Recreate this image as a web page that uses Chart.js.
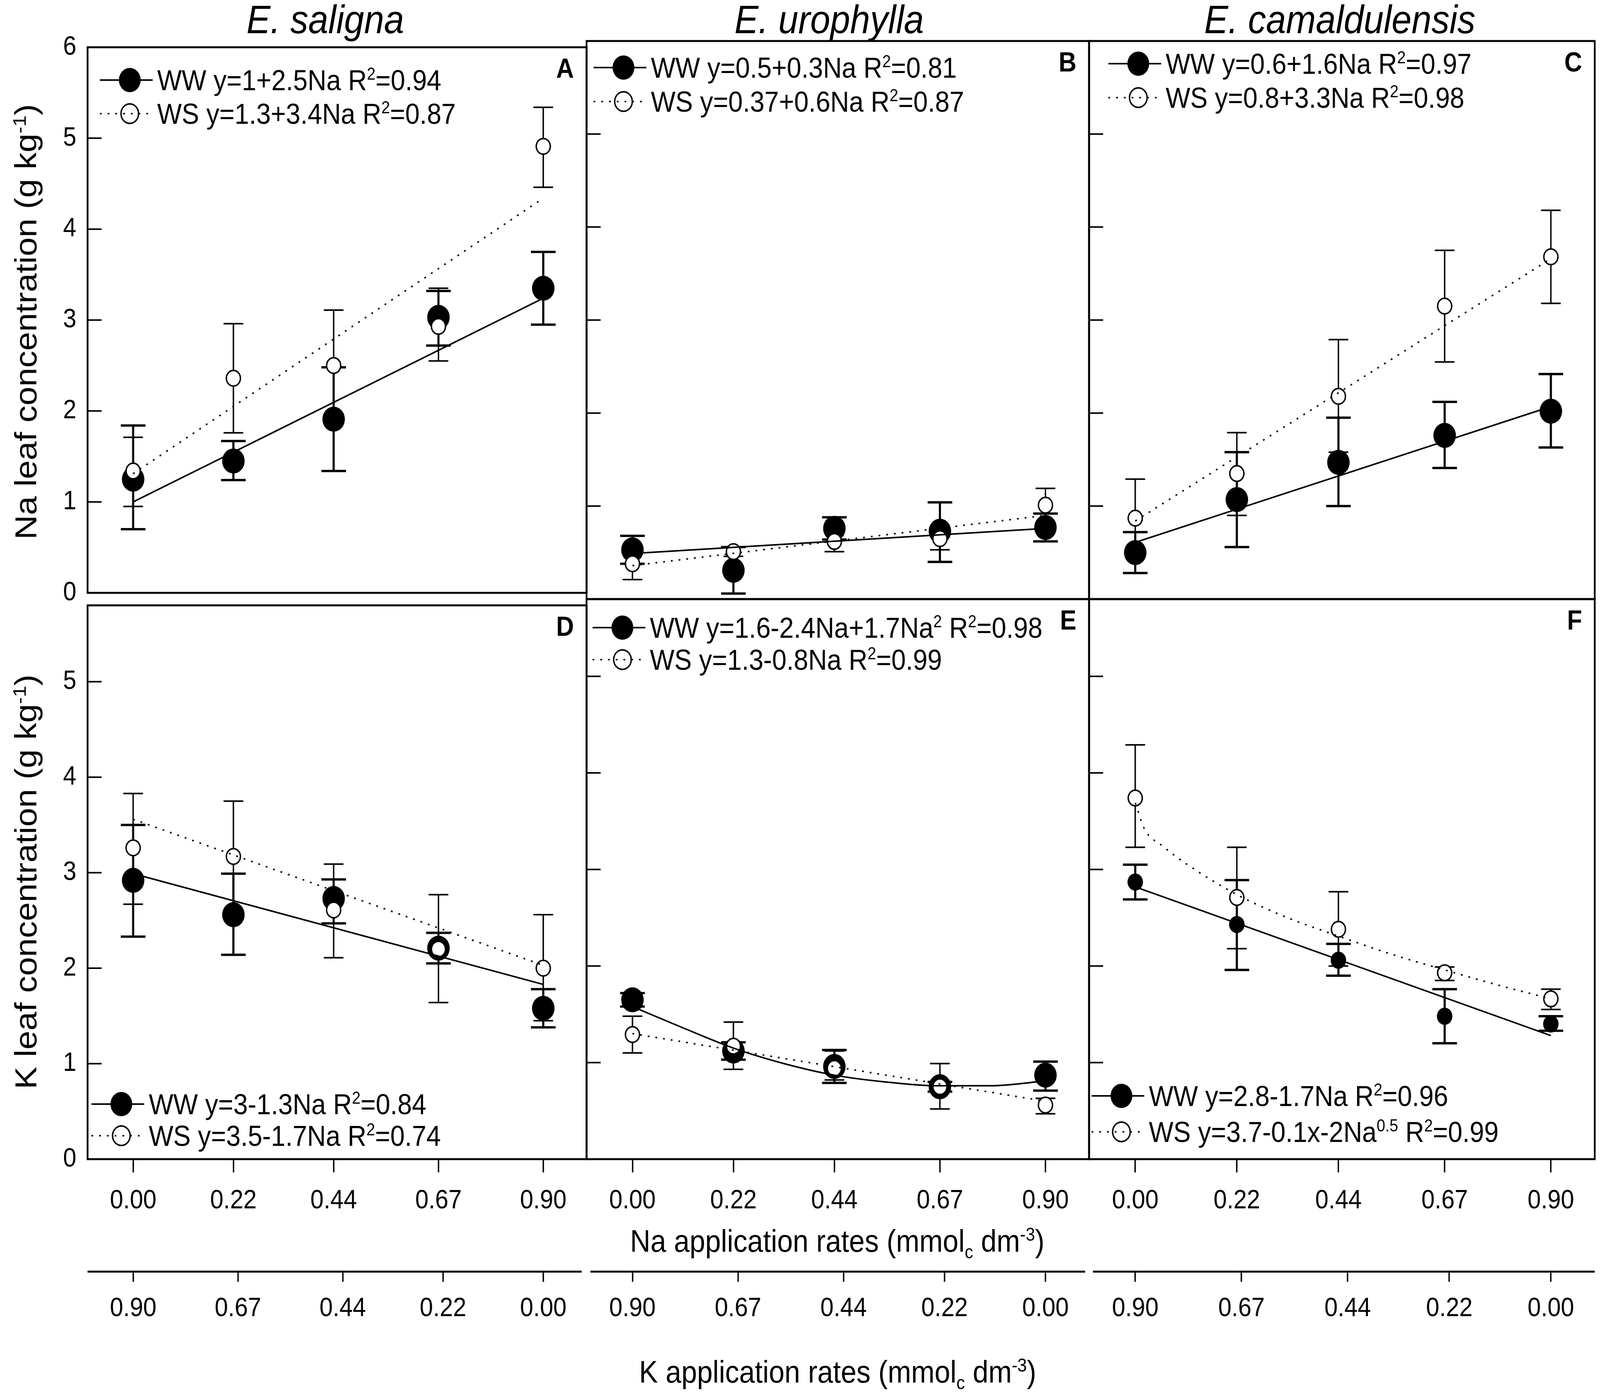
<!DOCTYPE html>
<html>
<head>
<meta charset="utf-8">
<script src="https://cdn.jsdelivr.net/npm/chart.js@4.4.1/dist/chart.umd.min.js"></script>
<style>
  html, body { margin: 0; padding: 0; background: #fff; overflow: hidden; }
  #wrap { position: relative; overflow: hidden; background: #fff; }
  #page { position: absolute; left: 0; top: 0; width: 4550px; height: 3577px; overflow: hidden; background: #fff;
          transform-origin: 0 0; font-family: 'Liberation Sans', Arial, sans-serif; color: #000; }
  #page canvas { position: absolute; }
  .lbl { position: absolute; white-space: nowrap; line-height: 1; transform: translate(-50%, -50%); }
  .lbl sup, .lbl sub { font-size: 60%; line-height: 0; }
  .rot { transform: translate(-50%, -50%) rotate(-90deg); }
</style>
</head>
<body>
<div id="wrap"><div id="page"></div></div>
<script>
// treatments and tick labels
const naRates = [0.00, 0.22, 0.44, 0.67, 0.90];
const naTicks = [0.00, 0.22, 0.44, 0.67, 0.90];
const kTicks = [0.90, 0.67, 0.44, 0.22, 0.00];
const naLeafTicks = [0, 1, 2, 3, 4, 5, 6];
const kLeafTicks = [0, 1, 2, 3, 4, 5];
const species = ['E. saligna', 'E. urophylla', 'E. camaldulensis'];

// A - E. saligna, Na leaf
const wwA = [1.25, 1.45, 1.91, 3.03, 3.35];
const wwLoA = [0.70, 1.24, 1.34, 2.72, 2.95];
const wwHiA = [1.84, 1.67, 2.48, 3.32, 3.75];
const wsA = [1.34, 2.36, 2.50, 2.93, 4.91];
const wsLoA = [0.95, 1.76, 1.89, 2.55, 4.46];
const wsHiA = [1.71, 2.96, 3.11, 3.35, 5.34];

// B - E. urophylla, Na leaf
const wwB = [0.53, 0.31, 0.76, 0.73, 0.77];
const wwLoB = [0.38, 0.06, 0.64, 0.40, 0.62];
const wwHiB = [0.68, 0.56, 0.88, 1.04, 0.92];
const wsB = [0.38, 0.51, 0.62, 0.65, 1.01];
const wsLoB = [0.21, 0.46, 0.51, 0.53, 0.83];
const wsHiB = [0.55, 0.56, 0.73, 0.77, 1.19];

// C - E. camaldulensis, Na leaf
const wwC = [0.50, 1.07, 1.47, 1.76, 2.02];
const wwLoC = [0.28, 0.56, 1.00, 1.41, 1.63];
const wwHiC = [0.72, 1.58, 1.95, 2.12, 2.42];
const wsC = [0.87, 1.35, 2.18, 3.15, 3.68];
const wsLoC = [0.45, 0.90, 1.58, 2.55, 3.18];
const wsHiC = [1.29, 1.79, 2.79, 3.75, 4.18];

// D - E. saligna, K leaf
const wwD = [2.92, 2.56, 2.73, 2.21, 1.58];
const wwLoD = [2.33, 2.14, 2.47, 2.05, 1.38];
const wwHiD = [3.50, 2.99, 2.93, 2.37, 1.78];
const wsD = [3.26, 3.17, 2.61, 2.20, 2.00];
const wsLoD = [2.67, 2.58, 2.11, 1.64, 1.45];
const wsHiD = [3.83, 3.75, 3.09, 2.77, 2.56];

// E - E. urophylla, K leaf
const wwE = [1.65, 1.12, 0.96, 0.75, 0.87];
const wwLoE = [1.58, 1.03, 0.79, 0.70, 0.71];
const wwHiE = [1.72, 1.21, 1.13, 0.80, 1.01];
const wsE = [1.29, 1.17, 0.94, 0.75, 0.56];
const wsLoE = [1.10, 0.93, 0.82, 0.52, 0.47];
const wsHiE = [1.48, 1.42, 1.12, 0.99, 0.63];

// F - E. camaldulensis, K leaf
const wwF = [2.87, 2.43, 2.06, 1.48, 1.40];
const wwLoF = [2.69, 1.96, 1.90, 1.20, 1.33];
const wwHiF = [3.05, 2.89, 2.23, 1.76, 1.48];
const wsF = [3.74, 2.71, 2.38, 1.93, 1.66];
const wsLoF = [3.23, 2.18, 2.00, 1.85, 1.55];
const wsHiF = [4.29, 3.23, 2.77, 1.99, 1.76];

// fitted lines
const fitX = [0, 0.9];
const fitWwA = [1.00, 3.24];
const fitWsA = [1.31, 4.34];
const fitWwB = [0.49, 0.76];
const fitWsB = [0.36, 0.90];
const fitWwC = [0.61, 2.07];
const fitWsC = [0.84, 3.66];
const fitWwD = [2.99, 1.83];
const fitWsD = [3.56, 2.03];
const curveXE = [0, 0.11, 0.22, 0.33, 0.44, 0.55, 0.67, 0.78, 0.9];
const fitWwE = [1.58, 1.36, 1.15, 0.99, 0.87, 0.80, 0.76, 0.76, 0.81];
const fitWsE = [1.30, 0.60];
const fitWwF = [2.82, 1.28];
const curveXF = [0, 0.02, 0.06, 0.11, 0.22, 0.33, 0.44, 0.55, 0.67, 0.78, 0.9];
const fitWsF = [3.69, 3.42, 3.24, 3.06, 2.74, 2.50, 2.31, 2.13, 1.96, 1.81, 1.66];

// legend texts (^..^ = superscript)
const legendA = ['WW y=1+2.5Na R^2^=0.94', 'WS y=1.3+3.4Na R^2^=0.87'];
const legendB = ['WW y=0.5+0.3Na R^2^=0.81', 'WS y=0.37+0.6Na R^2^=0.87'];
const legendC = ['WW y=0.6+1.6Na R^2^=0.97', 'WS y=0.8+3.3Na R^2^=0.98'];
const legendD = ['WW y=3-1.3Na R^2^=0.84', 'WS y=3.5-1.7Na R^2^=0.74'];
const legendE = ['WW y=1.6-2.4Na+1.7Na^2^ R^2^=0.98', 'WS y=1.3-0.8Na R^2^=0.99'];
const legendF = ['WW y=2.8-1.7Na R^2^=0.96', 'WS y=3.7-0.1x-2Na^0.5^ R^2^=0.99'];

// layout (page pixels)
const PAGE_W = 4550, PAGE_H = 3577;
const COLS = [[249, 1668], [1668, 3097], [3097, 4535]];
const ROWS = [[105, 1534], [1534, 2968]];
const X_MIN = -0.1, X_MAX = 0.995;
const M = 50, AXIS_X_H = 288, AXIS_X2_H = 170;
const FONT = "'Liberation Sans', Arial, sans-serif";

// the browser caps the window width, so stretch the 4550x3577 drawing over the whole viewport
const SX = (window.innerWidth || PAGE_W) / PAGE_W;
const SY = (window.innerHeight || PAGE_H) / PAGE_H;
const DPR = (window.devicePixelRatio || 1) * Math.max(SX, SY);
const wrap = document.getElementById('wrap');
const page = document.getElementById('page');
wrap.style.width = (PAGE_W * SX) + 'px';
wrap.style.height = (PAGE_H * SY) + 'px';
page.style.transform = 'scale(' + SX + ',' + SY + ')';

Chart.defaults.font.family = FONT;
Chart.defaults.color = '#000';

const panels = [
  { letter: 'A', col: 0, row: 0, ww: [wwA, wwLoA, wwHiA], ws: [wsA, wsLoA, wsHiA],
    fitWw: [fitX, fitWwA], fitWs: [fitX, fitWsA], legend: legendA, leg: { mx: 120, y1: 84, y2: 170 }, wwR: 32 },
  { letter: 'B', col: 1, row: 0, ww: [wwB, wwLoB, wwHiB], ws: [wsB, wsLoB, wsHiB],
    fitWw: [fitX, fitWwB], fitWs: [fitX, fitWsB], legend: legendB, leg: { mx: 105, y1: 68, y2: 155 }, wwR: 32 },
  { letter: 'C', col: 2, row: 0, ww: [wwC, wwLoC, wwHiC], ws: [wsC, wsLoC, wsHiC],
    fitWw: [fitX, fitWwC], fitWs: [fitX, fitWsC], legend: legendC, leg: { mx: 140, y1: 58, y2: 145 }, wwR: 32 },
  { letter: 'D', col: 0, row: 1, ww: [wwD, wwLoD, wwHiD], ws: [wsD, wsLoD, wsHiD],
    fitWw: [fitX, fitWwD], fitWs: [fitX, fitWsD], legend: legendD, leg: { mx: 96, y1: -141, y2: -60, bottom: true }, wwR: 32 },
  { letter: 'E', col: 1, row: 1, ww: [wwE, wwLoE, wwHiE], ws: [wsE, wsLoE, wsHiE],
    fitWw: [curveXE, fitWwE], fitWs: [fitX, fitWsE], legend: legendE, leg: { mx: 102, y1: 73, y2: 155 }, wwR: 32 },
  { letter: 'F', col: 2, row: 1, ww: [wwF, wwLoF, wwHiF], ws: [wsF, wsLoF, wsHiF],
    fitWw: [fitX, fitWwF], fitWs: [curveXF, fitWsF], legend: legendF, leg: { mx: 92, y1: -162, y2: -70, bottom: true }, wwR: 22 },
];

const X2_INSET = [[0, 14], [11, 11], [11, 0]];

function toXY(xs, ys) {
  return xs.map((x, i) => ({ x: x, y: ys[i] }));
}

function drawRich(ctx, str, x, y, size) {
  str.split('^').forEach((t, i) => {
    const sup = i % 2 === 1;
    ctx.font = (sup ? Math.round(size * 0.6) : size) + 'px ' + FONT;
    ctx.fillText(t, x, sup ? y - size * 0.36 : y);
    x += ctx.measureText(t).width;
  });
}

function makePlugin(p) {
  return {
    id: 'panelDeco' + p.letter,
    beforeDatasetsDraw(chart) {
      const { ctx, scales: { x, y } } = chart;
      const sets = [
        { d: p.ww, width: 6, cap: 35 },
        { d: p.ws, width: 4, cap: 28 },
      ];
      ctx.save();
      ctx.strokeStyle = '#000';
      sets.forEach(s => {
        ctx.lineWidth = s.width;
        naRates.forEach((v, i) => {
          const px = x.getPixelForValue(v);
          const lo = y.getPixelForValue(s.d[1][i]);
          const hi = y.getPixelForValue(s.d[2][i]);
          ctx.beginPath();
          ctx.moveTo(px, lo); ctx.lineTo(px, hi);
          ctx.moveTo(px - s.cap, lo); ctx.lineTo(px + s.cap, lo);
          ctx.moveTo(px - s.cap, hi); ctx.lineTo(px + s.cap, hi);
          ctx.stroke();
        });
      });
      ctx.restore();
    },
    afterDatasetsDraw(chart) {
      const { ctx, chartArea: ca, scales: { y } } = chart;
      ctx.save();
      ctx.strokeStyle = '#000';
      ctx.fillStyle = '#000';

      // frame
      ctx.lineWidth = 5;
      ctx.strokeRect(ca.left, ca.top, ca.right - ca.left, ca.bottom - ca.top);

      // inward y ticks
      ctx.lineWidth = 4;
      y.ticks.forEach(t => {
        const py = y.getPixelForValue(t.value);
        ctx.beginPath();
        ctx.moveTo(ca.left, py); ctx.lineTo(ca.left + 40, py);
        ctx.stroke();
      });

      // secondary (K) axis line
      if (p.row === 1) {
        const x2 = chart.scales.x2;
        const ins = X2_INSET[p.col];
        ctx.lineWidth = 5;
        ctx.beginPath();
        ctx.moveTo(x2.left + ins[0], x2.top); ctx.lineTo(x2.right - ins[1], x2.top);
        ctx.stroke();
      }

      // panel letter
      ctx.font = 'bold 70px ' + FONT;
      ctx.textAlign = 'right';
      ctx.textBaseline = 'alphabetic';
      ctx.fillText(p.letter, ca.right - 36, ca.top + 53 + 25);

      // legend
      const L = p.leg;
      const base = L.bottom ? ca.bottom : ca.top;
      const mx = ca.left + L.mx;
      ctx.textAlign = 'left';
      [L.y1, L.y2].forEach((dy, k) => {
        const cy = base + dy;
        if (k === 0) {
          ctx.lineWidth = 4;
          ctx.setLineDash([]);
          ctx.beginPath();
          ctx.moveTo(mx - 85, cy); ctx.lineTo(mx + 65, cy);
          ctx.stroke();
          ctx.beginPath();
          ctx.arc(mx, cy, 31, 0, Math.PI * 2);
          ctx.fill();
        } else {
          ctx.beginPath();
          ctx.arc(mx, cy, 25, 0, Math.PI * 2);
          ctx.fillStyle = '#fff';
          ctx.fill();
          ctx.lineWidth = 4;
          ctx.stroke();
          ctx.fillStyle = '#000';
          ctx.setLineDash([5, 17]);
          ctx.beginPath();
          ctx.moveTo(mx - 85, cy); ctx.lineTo(mx + 65, cy);
          ctx.stroke();
          ctx.setLineDash([]);
        }
        drawRich(ctx, p.legend[k], mx + 78, cy + 26, 74);
      });
      ctx.restore();
    }
  };
}

function makePanel(p) {
  const [bx0, bx1] = COLS[p.col];
  const [by0, by1] = ROWS[p.row];
  const bottomRow = p.row === 1;
  const leftW = p.col === 0 ? bx0 : M;
  const w = leftW + (bx1 - bx0) + M;
  const h = M + (by1 - by0) + (bottomRow ? AXIS_X_H + AXIS_X2_H : M);

  const canvas = document.createElement('canvas');
  canvas.width = w;
  canvas.height = h;
  canvas.style.left = (bx0 - leftW) + 'px';
  canvas.style.top = (by0 - M) + 'px';
  page.appendChild(canvas);

  const yTicks = p.row === 0 ? naLeafTicks : kLeafTicks;

  const scales = {
    x: {
      type: 'linear', position: 'bottom', weight: 0,
      min: X_MIN, max: X_MAX,
      display: bottomRow,
      afterBuildTicks: s => { s.ticks = naTicks.map(v => ({ value: v })); },
      grid: { drawOnChartArea: false, drawTicks: true, tickLength: 34, lineWidth: 4, color: '#000' },
      border: { display: false },
      ticks: { autoSkip: false, maxRotation: 0, padding: 39, color: '#000',
               font: { size: 68, lineHeight: 1 }, callback: v => v.toFixed(2) }
    },
    y: {
      type: 'linear', position: 'left',
      min: 0, max: p.row === 0 ? 6 : 5.8,
      afterBuildTicks: s => { s.ticks = yTicks.map(v => ({ value: v })); },
      afterFit: s => { s.width = leftW; },
      grid: { display: false, drawTicks: false },
      border: { display: false },
      ticks: { display: p.col === 0, padding: 32, color: '#000', font: { size: 68, lineHeight: 1 } }
    }
  };
  if (bottomRow) {
    scales.x.afterFit = s => { s.height = AXIS_X_H; };
    scales.x2 = {
      type: 'linear', position: 'bottom', weight: 1, reverse: true,
      min: 0.9 - X_MAX, max: 0.9 - X_MIN,
      afterBuildTicks: s => { s.ticks = kTicks.map(v => ({ value: v })); },
      afterFit: s => { s.height = AXIS_X2_H; },
      grid: { drawOnChartArea: false, drawTicks: true, tickLength: 26, lineWidth: 4, color: '#000' },
      border: { display: false },
      ticks: { autoSkip: false, maxRotation: 0, padding: 35, color: '#000',
               font: { size: 68, lineHeight: 1 }, callback: v => v.toFixed(2) }
    };
  }

  new Chart(canvas, {
    type: 'line',
    data: {
      datasets: [
        { label: 'WW', data: toXY(naRates, p.ww[0]), showLine: false, order: 3, clip: false,
          pointRadius: p.wwR, pointBackgroundColor: '#000', pointBorderColor: '#000', pointBorderWidth: 0 },
        { label: 'WS', data: toXY(naRates, p.ws[0]), showLine: false, order: 2, clip: false,
          pointRadius: 20, pointBackgroundColor: '#fff', pointBorderColor: '#000', pointBorderWidth: 4 },
        { label: 'WW fit', data: toXY(p.fitWw[0], p.fitWw[1]), order: 1, clip: false,
          borderColor: '#000', borderWidth: 4, pointRadius: 0, cubicInterpolationMode: 'monotone' },
        { label: 'WS fit', data: toXY(p.fitWs[0], p.fitWs[1]), order: 0, clip: false,
          borderColor: '#000', borderWidth: 4, borderDash: [5, 17], pointRadius: 0, cubicInterpolationMode: 'monotone' }
      ]
    },
    options: {
      responsive: false,
      animation: false,
      devicePixelRatio: DPR,
      events: [],
      layout: { padding: { left: 0, top: M, right: M, bottom: bottomRow ? 0 : M } },
      plugins: { legend: { display: false }, tooltip: { enabled: false } },
      scales: scales
    },
    plugins: [makePlugin(p)]
  });
}

panels.forEach(makePanel);

// text labels
function addLabel(html, x, y, css, rotate) {
  const d = document.createElement('div');
  d.className = 'lbl' + (rotate ? ' rot' : '');
  d.innerHTML = html;
  d.style.left = x + 'px';
  d.style.top = y + 'px';
  Object.assign(d.style, css);
  page.appendChild(d);
}

const titleX = [925, 2358, 3810];
species.forEach((s, i) => addLabel(s, titleX[i], 50, { fontSize: '102px', fontStyle: 'italic' }));
addLabel('Na leaf concentration (g kg<sup>-1</sup>)', 73, 824, { fontSize: '87px' }, true);
addLabel('K leaf concentration (g kg<sup>-1</sup>)', 73, 2258, { fontSize: '87px' }, true);
addLabel('Na application rates (mmol<sub>c</sub> dm<sup>-3</sup>)', 2381, 3178, { fontSize: '80px' });
addLabel('K application rates (mmol<sub>c</sub> dm<sup>-3</sup>)', 2382, 3513, { fontSize: '80px' });
</script>
</body>
</html>
